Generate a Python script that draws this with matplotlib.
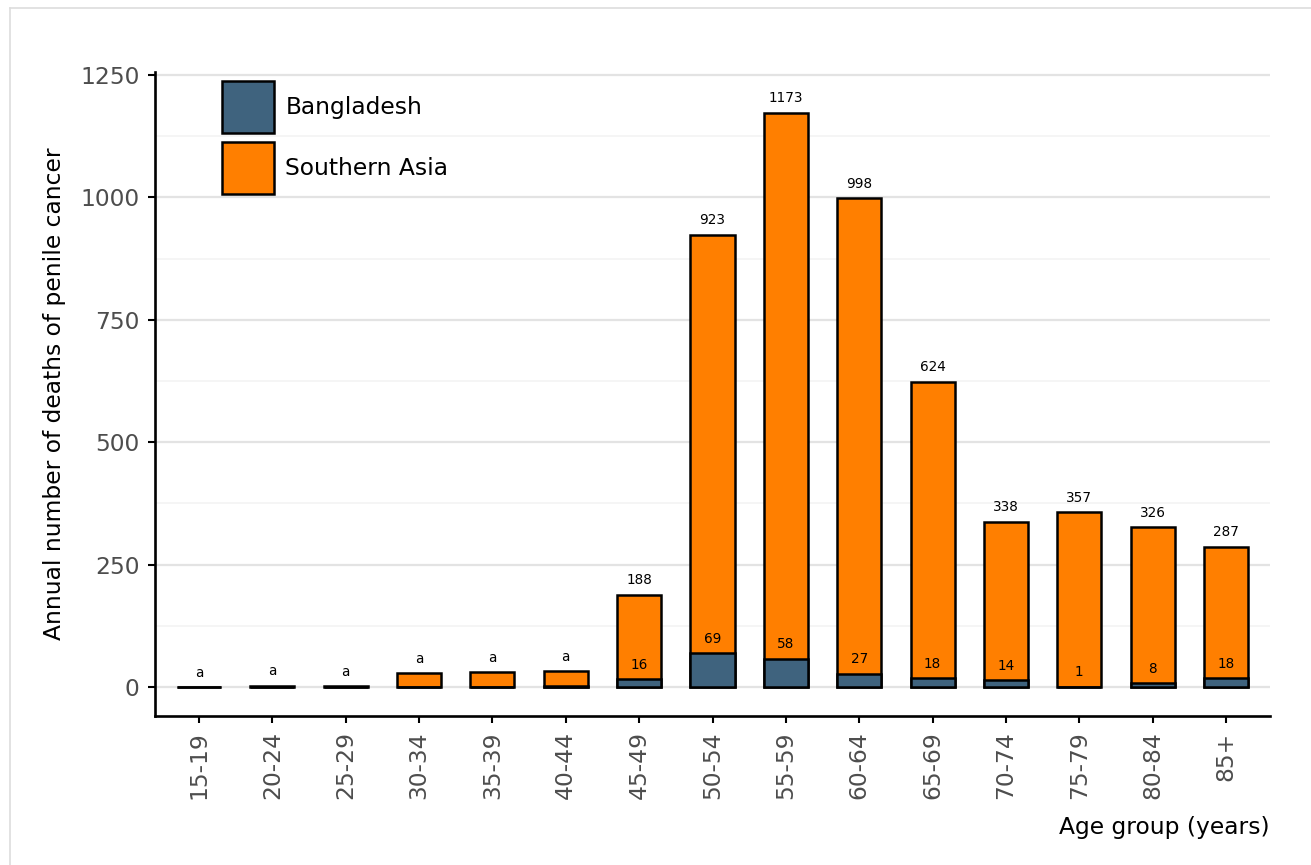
import matplotlib
matplotlib.use("Agg")
import matplotlib.pyplot as plt
from matplotlib.lines import Line2D
from matplotlib.patches import Patch

age_groups = ["15-19", "20-24", "25-29", "30-34", "35-39", "40-44", "45-49",
              "50-54", "55-59", "60-64", "65-69", "70-74", "75-79", "80-84", "85+"]
southern_asia = [0, 3, 2, 28, 30, 32, 188, 923, 1173, 998, 624, 338, 357, 326, 287]
bangladesh = [0, 0, 0, 0, 0, 3, 16, 69, 58, 27, 18, 14, 1, 8, 18]
sa_labels = ["a", "a", "a", "a", "a", "a", "188", "923", "1173", "998", "624",
             "338", "357", "326", "287"]
bd_labels = ["", "", "", "", "", "", "16", "69", "58", "27", "18", "14", "1", "8", "18"]

BLUE = "#3f637e"
ORANGE = "#ff7f00"

fig = plt.figure(figsize=(13.11, 8.65), dpi=100)
ax = fig.add_axes([155/1311, 1-716/865, (1270-155)/1311, (716-72)/865])

x = list(range(len(age_groups)))
w = 0.6
ax.bar(x, southern_asia, width=w, color=ORANGE, edgecolor="black", linewidth=1.8, zorder=3)
ax.bar(x, bangladesh, width=w, color=BLUE, edgecolor="black", linewidth=1.8, zorder=4)

for xi, v, lab in zip(x, southern_asia, sa_labels):
    ax.annotate(lab, (xi, v), xytext=(0, 10.5), textcoords="offset points",
                ha="center", va="center", fontsize=9.8, zorder=5)
for xi, v, lab in zip(x, bangladesh, bd_labels):
    if lab:
        ax.annotate(lab, (xi, v), xytext=(0, 10.5), textcoords="offset points",
                    ha="center", va="center", fontsize=9.8, zorder=5)

ax.set_xlim(-0.6, 14.6)
ax.set_ylim(-59, 1256)
ax.set_yticks([0, 250, 500, 750, 1000, 1250])
ax.set_yticks([125, 375, 625, 875, 1125], minor=True)
ax.set_xticks(x)
ax.set_xticklabels(age_groups, rotation=90)

ax.grid(axis="y", which="major", color="#e3e3e3", linewidth=1.6, zorder=0)
ax.grid(axis="y", which="minor", color="#f3f3f3", linewidth=1.2, zorder=0)
ax.set_axisbelow(True)

for s in ["top", "right"]:
    ax.spines[s].set_visible(False)
for s in ["left", "bottom"]:
    ax.spines[s].set_linewidth(1.9)
    ax.spines[s].set_color("black")

ax.tick_params(axis="both", which="major", length=5, width=1.5, color="black",
               labelsize=16.8, labelcolor="#4d4d4d", pad=6)
ax.tick_params(axis="y", which="minor", length=0)

ax.set_ylabel("Annual number of deaths of penile cancer", fontsize=16.8, labelpad=10)
ax.set_xlabel("Age group (years)", fontsize=16.8, loc="right", labelpad=12)

handles = [Patch(facecolor=BLUE, edgecolor="black", linewidth=1.8),
           Patch(facecolor=ORANGE, edgecolor="black", linewidth=1.8)]
ax.legend(handles, ["Bangladesh", "Southern Asia"], loc="upper left",
          bbox_to_anchor=(0.060, 0.986), frameon=False, fontsize=16.8,
          handlelength=2.24, handleheight=3.07, labelspacing=0.36,
          handletextpad=0.48, borderpad=0, borderaxespad=0)

# light figure border
fig.add_artist(Line2D([10/1311, 10/1311], [0, 1-8/865], transform=fig.transFigure,
                      color="#dddddd", linewidth=1.2))
fig.add_artist(Line2D([10/1311, 1], [1-8/865, 1-8/865], transform=fig.transFigure,
                      color="#dddddd", linewidth=1.2))

fig.savefig("out.png", dpi=100)
